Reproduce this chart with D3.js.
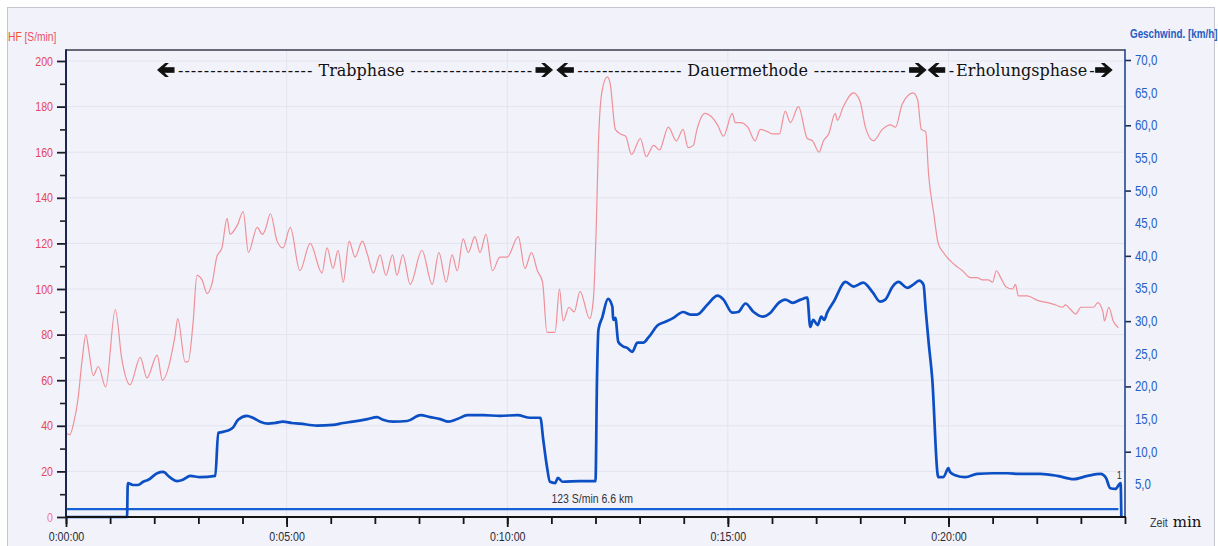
<!DOCTYPE html>
<html>
<head>
<meta charset="utf-8">
<script src="https://cdn.jsdelivr.net/npm/d3@7"></script>
<style>
  html, body { margin: 0; padding: 0; background: #ffffff; }
  svg { display: block; }
</style>
</head>
<body>
<svg id="chart" width="1218" height="546"></svg>
<script>
// Heart rate (S/min) over elapsed time in seconds
const heartRate = [
  [0,37],[5,36],[11,42],[16,51],[22,69],[27,80],[31,73],[37,62],[44,66],[54,57],
  [67,91],[76,69],[87,58],[101,70],[110,61],[124,71],[131,60],[148,79],[152,87],[162,68],
  [166,68],[173,86],[178,106],[185,104],[192,98],[199,103],[205,114],[212,118],[219,131],[223,124],
  [233,128],[241,134],[248,116],[260,127],[267,124],[271,126],[278,133],[287,121],[295,118],[305,127],
  [318,108],[332,120],[348,107],[355,118],[363,109],[370,117],[377,103],[385,121],[393,114],[403,121],
  [410,115],[418,107],[427,115],[435,106],[444,115],[450,106],[458,115],[468,102],[484,117],[498,102],
  [507,116],[517,103],[525,115],[532,108],[540,122],[547,116],[556,123],[563,116],[571,124],[580,108],
  [590,114],[600,114],[615,123],[624,109],[633,116],[641,108],[648,103],[654,81],[665,81],[671,100],
  [676,86],[684,92],[691,90],[699,99],[712,87],[717,95],[721,127],[724,164],[729,187],[736,193],
  [740,190],[747,170],[754,168],[761,167],[769,159],[781,166],[789,158],[799,163],[807,161],[819,171],
  [830,165],[839,170],[846,162],[853,163],[858,170],[869,177],[886,172],[894,167],[906,177],[910,173],
  [917,173],[927,171],[937,165],[944,170],[954,169],[961,168],[970,168],[978,178],[985,173],[996,180],
  [1008,166],[1015,165],[1024,160],[1030,165],[1037,168],[1046,177],[1049,174],[1057,180],[1071,186],[1080,182],
  [1087,171],[1098,165],[1110,170],[1121,172],[1128,171],[1137,181],[1152,186],[1158,183],[1163,170],[1169,169],
  [1173,150],[1180,133],[1186,120],[1193,116],[1207,111],[1219,108],[1230,105],[1239,105],[1246,104],[1254,104],
  [1260,103],[1265,108],[1271,105],[1278,101],[1287,100],[1291,102],[1295,97],[1307,97],[1321,95],[1335,94],
  [1346,93],[1355,92],[1359,93],[1366,91],[1373,89],[1380,92],[1389,92],[1397,92],[1403,94],[1410,90],
  [1412,86],[1418,92],[1424,86],[1431,83]
];

// Speed (km/h) over elapsed time in seconds
const speed = [
  [0,0],[83,0],[84,5.2],[91,4.9],[98,4.9],[105,5.4],[112,5.7],[124,6.7],[132,6.9],[141,6.1],
  [151,5.5],[159,5.7],[169,6.3],[182,6.1],[203,6.3],[207,12.9],[212,13.0],[219,13.2],[227,13.7],[234,14.9],
  [246,15.5],[254,15.2],[264,14.6],[275,14.3],[284,14.4],[295,14.6],[307,14.4],[318,14.3],[341,14.0],[363,14.1],
  [377,14.4],[390,14.6],[410,15.0],[423,15.3],[431,14.9],[445,14.6],[464,14.7],[482,15.6],[495,15.3],[509,15.0],
  [520,14.6],[532,15.0],[546,15.6],[567,15.6],[590,15.5],[614,15.6],[631,15.2],[645,15.2],[649,11.8],[654,7.7],
  [658,5.4],[665,5.2],[669,6.0],[675,5.4],[699,5.5],[720,5.5],[722,21.0],[724,28.7],[729,30.5],[737,33.4],
  [743,32.2],[744,30.2],[747,30.5],[751,26.8],[758,26.1],[763,25.9],[770,25.3],[777,26.7],[785,26.7],[792,27.5],
  [805,29.4],[815,29.9],[826,30.5],[839,31.4],[849,31.0],[858,31.0],[872,32.5],[886,33.9],[894,33.3],[906,31.3],
  [914,31.4],[924,32.7],[935,31.4],[947,30.7],[958,31.3],[969,32.8],[978,33.3],[988,32.8],[999,33.3],[1008,33.6],
  [1012,29.1],[1016,30.2],[1022,29.4],[1027,30.7],[1031,30.2],[1035,31.3],[1044,33.0],[1060,36.0],[1071,35.3],[1084,35.9],
  [1097,34.4],[1107,33.0],[1114,33.3],[1124,35.3],[1132,36.0],[1144,35.1],[1152,35.6],[1160,36.2],[1166,35.6],[1169,31.7],
  [1173,26.7],[1178,21.0],[1185,6.7],[1186,6.1],[1193,6.1],[1200,7.5],[1202,6.9],[1209,6.4],[1223,6.1],[1239,6.6],
  [1261,6.7],[1280,6.7],[1298,6.6],[1325,6.6],[1348,6.3],[1370,5.8],[1389,6.3],[1407,6.6],[1414,6.0],[1420,4.4],
  [1427,4.3],[1434,5.2],[1435,0]
];

// Lap summary bar
const lapStart = 0;
const lapEnd = 1431;
const lapLevel = 1.2;          // km/h
const lapLabel = "123 S/min 6.6 km";
const lapNumber = "1";

// Training phases (seconds) with dash counts on either side of the name
const phases = [
  { name: "Trabphase",      start: 125,  end: 661,  left: 21, right: 19 },
  { name: "Dauermethode",   start: 668,  end: 1169, left: 17, right: 15 },
  { name: "Erholungsphase", start: 1173, end: 1422, left: 1,  right: 1 }
];

// Axis ticks and titles
const hfTicks = d3.range(0, 201, 20);
const hfMinorTicks = d3.range(10, 200, 20);
const speedLabelTicks = d3.range(5, 71, 5);
const speedTickMarks = d3.range(10, 71, 10);
const timeMinorTicks = d3.range(0, 1441, 60);
const timeMajorTicks = d3.range(0, 1441, 300);
const hfTitle = ["HF", " [S/min]"];
const speedTitle = "Geschwind. [km/h]";
const timeTitle = ["Zeit", " min"];

const svg = d3.select("#chart");
const W = 1218, H = 546;
const plot = { left: 66, right: 1125, top: 50, bottom: 517 };
const NARROW = 0.82;
const sansFont = "'Liberation Sans', Arial, sans-serif";
const serifFont = "'DejaVu Serif', serif";

const x = d3.scaleLinear().domain([0, 1440]).range([plot.left, plot.right]);
const yHF = d3.scaleLinear().domain([0, 200]).range([plot.bottom, 61]);
const ySpeed = d3.scaleLinear().domain([0, 70]).range([plot.bottom, 60]);

// Page background and outer frame
svg.append("rect").attr("width", W).attr("height", H).attr("fill", "#ffffff");
svg.append("rect")
  .attr("x", 7.5).attr("y", 7.5).attr("width", 1207).attr("height", 545)
  .attr("fill", "#f2f2fa").attr("stroke", "#c6c6d0").attr("stroke-width", 1);

// Faint grid
const grid = svg.append("g");
grid.selectAll("line.h").data(hfTicks.filter(d => d > 0)).join("line")
  .attr("x1", plot.left).attr("x2", plot.right)
  .attr("y1", d => yHF(d)).attr("y2", d => yHF(d))
  .attr("stroke", "#e4e4f0").attr("stroke-width", 1);
grid.selectAll("line.v").data(timeMajorTicks.filter(d => d > 0)).join("line")
  .attr("x1", d => x(d)).attr("x2", d => x(d))
  .attr("y1", plot.top).attr("y2", plot.bottom)
  .attr("stroke", "#e4e4f0").attr("stroke-width", 1);

// Narrow sans text helper: squeezes horizontally around its own anchor
function narrowText(parent, tx, ty, str, opts) {
  const t = parent.append("text")
    .attr("transform", `translate(${tx},${ty}) scale(${NARROW},1)`)
    .attr("font-family", sansFont)
    .attr("font-size", opts.size)
    .attr("fill", opts.fill || "#333")
    .attr("text-anchor", opts.anchor || "start");
  if (opts.weight) t.attr("font-weight", opts.weight);
  t.text(str);
  return t;
}
function narrowAxisText(g, size, fill) {
  g.selectAll(".tick text")
    .attr("font-family", sansFont)
    .attr("font-size", size)
    .attr("fill", fill)
    .attr("x", function () { return (+d3.select(this).attr("x") || 0) / NARROW; })
    .attr("transform", `scale(${NARROW},1)`);
}

// Left axis (heart rate)
const gHFminor = svg.append("g").attr("transform", `translate(${plot.left},0)`)
  .call(d3.axisLeft(yHF).tickValues(hfMinorTicks).tickSize(6).tickFormat(""));
gHFminor.select(".domain").remove();
gHFminor.selectAll(".tick line").attr("stroke", "#1c1c2c").attr("stroke-width", 1.6);

const gHF = svg.append("g").attr("transform", `translate(${plot.left},0)`)
  .call(d3.axisLeft(yHF).tickValues(hfTicks).tickSize(9).tickPadding(4).tickFormat(d3.format("d")));
gHF.select(".domain").remove();
gHF.selectAll(".tick line").attr("stroke", "#1c1c2c").attr("stroke-width", 1.8);
narrowAxisText(gHF, 13, "#e6465a");
gHF.selectAll(".tick text").filter(d => d === 0).attr("fill", "#f07a9a");

// Right axis (speed)
const gSpdMarks = svg.append("g").attr("transform", `translate(${plot.right},0)`)
  .call(d3.axisRight(ySpeed).tickValues(speedTickMarks).tickSize(6).tickFormat(""));
gSpdMarks.select(".domain").remove();
gSpdMarks.selectAll(".tick line").attr("stroke", "#1c2c55").attr("stroke-width", 1.6);

const commaFmt = d => d3.format(".1f")(d).replace(".", ",");
const gSpd = svg.append("g").attr("transform", `translate(${plot.right},0)`)
  .call(d3.axisRight(ySpeed).tickValues(speedLabelTicks).tickSize(0).tickPadding(10).tickFormat(commaFmt));
gSpd.select(".domain").remove();
gSpd.selectAll(".tick line").remove();
narrowAxisText(gSpd, 14, "#1f5fc8");

// Bottom axis (time)
const gTminor = svg.append("g").attr("transform", `translate(0,${plot.bottom})`)
  .call(d3.axisBottom(x).tickValues(timeMinorTicks).tickSize(7).tickFormat(""));
gTminor.select(".domain").remove();
gTminor.selectAll(".tick line").attr("stroke", "#151515").attr("stroke-width", 1.8);

const hms = s => {
  const h = Math.floor(s / 3600), m = Math.floor((s % 3600) / 60), sec = s % 60;
  return `${h}:${String(m).padStart(2, "0")}:${String(sec).padStart(2, "0")}`;
};
const gT = svg.append("g").attr("transform", `translate(0,${plot.bottom})`)
  .call(d3.axisBottom(x).tickValues(timeMajorTicks).tickSize(10).tickPadding(5).tickFormat(hms));
gT.select(".domain").remove();
gT.selectAll(".tick line").attr("stroke", "#151515").attr("stroke-width", 1.8);
narrowAxisText(gT, 13, "#2a2a33");

// Lap bar and its summary
const lapY = ySpeed(lapLevel);
svg.append("line")
  .attr("x1", x(lapStart)).attr("x2", x(lapEnd)).attr("y1", lapY).attr("y2", lapY)
  .attr("stroke", "#1462d6").attr("stroke-width", 2.2);
narrowText(svg, x((lapStart + lapEnd) / 2), lapY - 6, lapLabel, { size: 12.8, fill: "#33333c", anchor: "middle" });
narrowText(svg, x(lapEnd) + 1, ySpeed(5.8), lapNumber, { size: 11, fill: "#33333c", anchor: "middle" });

// Heart rate line
svg.append("path")
  .datum(heartRate)
  .attr("fill", "none")
  .attr("stroke", "#ef9098")
  .attr("stroke-width", 1.2)
  .attr("stroke-linejoin", "round")
  .attr("d", d3.line().curve(d3.curveMonotoneX).x(d => x(d[0])).y(d => yHF(d[1])));

// Speed line
svg.append("path")
  .datum(speed)
  .attr("fill", "none")
  .attr("stroke", "#0c4fc4")
  .attr("stroke-width", 2.7)
  .attr("stroke-linejoin", "round")
  .attr("d", d3.line().curve(d3.curveMonotoneX).x(d => x(d[0])).y(d => ySpeed(d[1])));

// Plot frame lines (drawn over the data so the axes stay crisp)
svg.append("line").attr("x1", plot.left).attr("x2", plot.right).attr("y1", plot.top).attr("y2", plot.top)
  .attr("stroke", "#3a3a4a").attr("stroke-width", 1.6);
svg.append("line").attr("x1", plot.left).attr("x2", plot.left).attr("y1", plot.top - 0.8).attr("y2", plot.bottom + 1)
  .attr("stroke", "#1a2650").attr("stroke-width", 2);
svg.append("line").attr("x1", plot.right).attr("x2", plot.right).attr("y1", plot.top - 0.8).attr("y2", plot.bottom + 1)
  .attr("stroke", "#23468f").attr("stroke-width", 1.6);
svg.append("line").attr("x1", plot.left).attr("x2", plot.right + 1).attr("y1", plot.bottom).attr("y2", plot.bottom)
  .attr("stroke", "#141414").attr("stroke-width", 2);

// Axis titles
const hfT = svg.append("text")
  .attr("transform", `translate(8,41) scale(${NARROW},1)`)
  .attr("font-family", sansFont).attr("font-size", 12.5);
hfT.append("tspan").attr("fill", "#f0502e").text(hfTitle[0]);
hfT.append("tspan").attr("fill", "#e8506a").text(hfTitle[1]);

narrowText(svg, 1130, 38, speedTitle, { size: 12, fill: "#1f5cc2", weight: "bold" });

narrowText(svg, 1150, 527, timeTitle[0], { size: 13, fill: "#3a3a44" });
svg.append("text").attr("x", 1168).attr("y", 527)
  .attr("font-family", serifFont).attr("font-size", 15).attr("fill", "#111")
  .attr("xml:space", "preserve").text(timeTitle[1]);

// Phase annotations with heavy arrows
const arrowY = 70, textY = 76;
function arrow(xTip, dir) {
  // dir = 1 points right, -1 points left; tip at xTip
  const pts = [[0, 0], [-7.5, -6.5], [-9.5, -6.5], [-5.2, -2.2], [-16, -2.2], [-16, 2.2], [-5.2, 2.2], [-9.5, 6.5], [-7.5, 6.5]]
    .map(([px, py]) => [xTip + dir * px, arrowY + py]);
  svg.append("path").attr("d", "M" + pts.map(p => p.join(",")).join("L") + "Z")
    .attr("fill", "#111").attr("stroke", "#111").attr("stroke-width", 1.2).attr("stroke-linejoin", "miter");
}
function serifText(str) {
  return svg.append("text").attr("y", textY)
    .attr("font-family", serifFont).attr("font-size", 16).attr("fill", "#111").text(str);
}
phases.forEach(p => {
  const x0 = x(p.start), x1 = x(p.end);
  arrow(x0, -1);
  arrow(x1, 1);
  const a = x0 + 20, b = x1 - 20;
  const name = serifText(p.name);
  const leftDash = serifText("-".repeat(p.left));
  const rightDash = serifText("-".repeat(p.right));
  const nameW = name.node().getComputedTextLength();
  const nL = leftDash.node().getComputedTextLength();
  const nR = rightDash.node().getComputedTextLength();
  let gap = 6;
  let leftLen, rightLen;
  if (nL + nR + nameW + 2 * gap <= (b - a) && p.left > 1) {
    const dashTotal = (b - a) - nameW - 2 * gap;
    leftLen = dashTotal * p.left / (p.left + p.right);
    rightLen = dashTotal - leftLen;
    leftDash.attr("textLength", leftLen).attr("lengthAdjust", "spacing");
    rightDash.attr("textLength", rightLen).attr("lengthAdjust", "spacing");
  } else {
    leftLen = nL; rightLen = nR;
    gap = Math.max(2, ((b - a) - nameW - nL - nR) / 2);
  }
  leftDash.attr("x", a);
  name.attr("x", a + leftLen + gap);
  rightDash.attr("x", a + leftLen + gap + nameW + gap);
});
</script>
</body>
</html>
